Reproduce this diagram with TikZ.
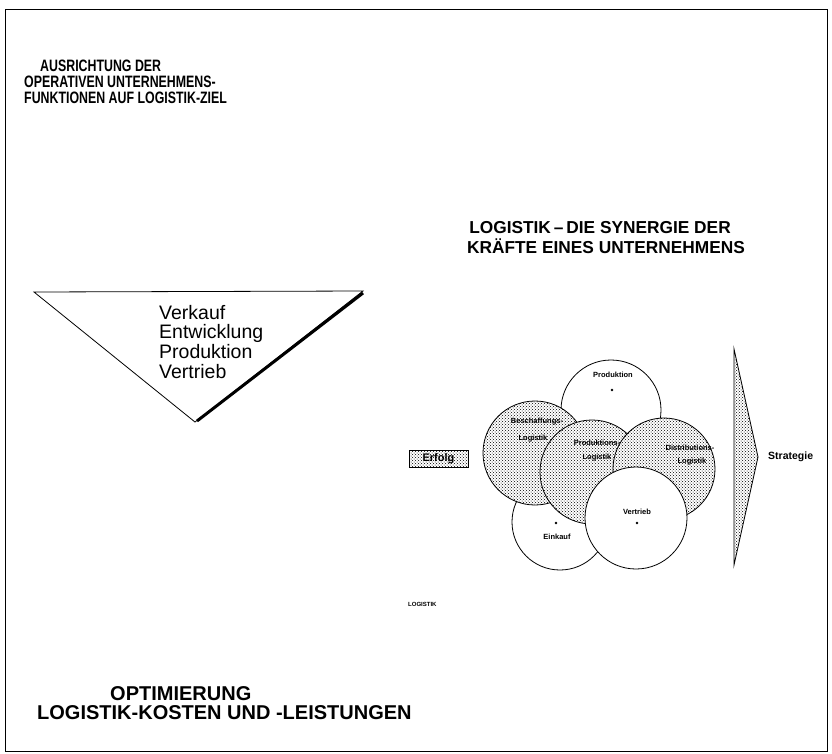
\documentclass[tikz,border=0pt]{standalone}
\usepackage{fontspec}
\setmainfont{Liberation Sans}
\newfontfamily\narrowsans[FakeStretch=0.75]{Liberation Sans}
\usetikzlibrary{patterns}

\tikzset{
  zeile/.style={anchor=base west, inner sep=0pt},
  kreis/.style={draw, line width=0.8pt, fill=white, circle, inner sep=0pt, minimum size=#1},
  raster/.style={preaction={fill=white}, pattern=crosshatch dots, pattern color=black},
  mini/.style={inner sep=0pt, font=\bfseries\fontsize{7.5}{8}\selectfont},
}

\begin{document}
\begin{tikzpicture}[x=1pt, y=-1pt]
	\useasboundingbox (0,0) rectangle (832,753);
	\draw [line width=1pt] (5,9) rectangle (827,751);

	% titel links oben
	\node [zeile, font=\narrowsans\bfseries\fontsize{16.5}{17}\selectfont] (t1) at (40,71) {AUSRICHTUNG DER};
	\node [zeile, font=\narrowsans\bfseries\fontsize{16.5}{17}\selectfont] (t2) at (24,87) {OPERATIVEN UNTERNEHMENS-};
	\node [zeile, font=\narrowsans\bfseries\fontsize{16.5}{17}\selectfont] (t3) at (24,103) {FUNKTIONEN AUF LOGISTIK-ZIEL};

	% dreieck
	\draw [line width=0.8pt] (34,292) -- (363,291) -- (195,422) -- cycle;
	\draw [line width=3pt] (363,293) -- (197,421);
	\foreach \wort [count=\i] in {Verkauf, Entwicklung, Produktion, Vertrieb}
		\node [zeile, font=\fontsize{19.5}{20}\selectfont] (f\i) at (159, 299.3+19.7*\i) {\wort};

	% titel unten
	\node [zeile, font=\bfseries\fontsize{20}{21}\selectfont] (u1) at (110,700) {OPTIMIERUNG};
	\node [zeile, font=\bfseries\fontsize{20}{21}\selectfont] (u2) at (37,719) {LOGISTIK-KOSTEN UND -LEISTUNGEN};

	% titel rechts
	\node [anchor=base, inner sep=0pt, font=\bfseries\fontsize{17.3}{18}\selectfont] (r1) at (600,233) {LOGISTIK\,--\,DIE SYNERGIE DER};
	\node [anchor=base, inner sep=0pt, font=\bfseries\fontsize{17.3}{18}\selectfont] (r2) at (606,253) {KRÄFTE EINES UNTERNEHMENS};

	% kreise
	\node [kreis=100pt] (prod) at (611,410) {};
	\node [kreis=96pt] (eink) at (560,522) {};
	\node [kreis=104pt, raster] (besch) at (535,453) {};
	\node [kreis=104pt, raster] (plog) at (592,472) {};
	\node [kreis=102pt, raster] (dlog) at (664,469) {};
	\node [kreis=102pt] (vert) at (636,518) {};

	\node [mini] (lprod) at (613,375) {Produktion};
	\fill (612,390) circle (1.3);
	\node [mini] (leink) at (557,537) {Einkauf};
	\fill (556,523) circle (1.3);
	\node [mini] (lvert) at (637,512) {Vertrieb};
	\fill (637,523) circle (1.3);
	\node [mini] (lb1) at (537,422) {Beschaffungs-};
	\node [mini] (lb2) at (533,439) {Logistik};
	\node [mini] (lp1) at (597,443) {Produktions-};
	\node [mini] (lp2) at (597,458) {Logistik};
	\node [mini] (ld1) at (690,448) {Distributions-};
	\node [mini] (ld2) at (692,462) {Logistik};

	% erfolg und strategie
	\node [draw, raster, line width=0.8pt, minimum width=59pt, minimum height=17pt, inner sep=0pt,
		font=\bfseries\fontsize{11}{12}\selectfont] (erfolg) at (438.5,458.5) {Erfolg};
	\draw [raster, line width=0.8pt] (734,349) -- (758,457) -- (734,565) -- cycle;
	\node [anchor=west, inner sep=0pt, font=\bfseries\fontsize{10.5}{11}\selectfont] (strat) at (768,457) {Strategie};

	\node [zeile, font=\bfseries\fontsize{6}{6}\selectfont] (klein) at (408,606) {LOGISTIK};
\end{tikzpicture}
\end{document}
